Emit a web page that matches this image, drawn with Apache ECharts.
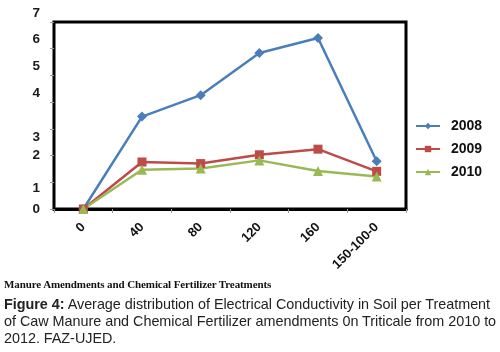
<!DOCTYPE html>
<html>
<head>
<meta charset="utf-8">
<script src="https://cdn.jsdelivr.net/npm/echarts@6/dist/echarts.min.js"></script>
<style>
  body { margin: 0; background: #fff; }
  #wrap { position: relative; width: 500px; height: 352px; overflow: hidden; }
  #chart { position: absolute; left: 0; top: 0; width: 500px; height: 352px; }
  .sub { position: absolute; left: 4px; top: 278px; font: bold 11px "Liberation Serif", serif; color: #111; letter-spacing: -0.1px; }
  .cap { position: absolute; left: 4px; top: 296px; width: 496px; font: 14.4px/17px "Liberation Sans", Arial, sans-serif; color: #222; letter-spacing: -0.03px; }
</style>
</head>
<body>
<div id="wrap">
  <div id="chart"></div>
  <div class="sub">Manure Amendments and Chemical Fertilizer Treatments</div>
  <div class="cap"><b>Figure 4:</b> Average distribution of Electrical Conductivity in Soil per Treatment of Caw Manure and Chemical Fertilizer amendments 0n Triticale from 2010 to 2012. FAZ-UJED.</div>
</div>
<script>
// categorias y valores
var categories = ['0', '40', '80', '120', '160', '150-100-0'];
var ce2008 = [0, 3.46, 4.26, 5.84, 6.40, 1.79];
var ce2009 = [0, 1.76, 1.70, 2.03, 2.24, 1.41];
var ce2010 = [0, 1.47, 1.52, 1.82, 1.42, 1.22];
var yTicks = ['0', '1', '2', '3', '4', '5', '6', '7'];

// desplazamiento vertical de las etiquetas del eje y (la figura original las tiene corridas)
var labelShift = {'7': 'up', '6': 'up', '5': 'up', '4': 'up', '3': 'down', '2': 'none', '1': 'down1', '0': 'none'};

var myChart = echarts.init(document.getElementById('chart'));

function serie(name, data, color, symbol, size) {
    return {
        type: 'line',
        name: name,
        data: data,
        symbol: symbol,
        symbolSize: size,
        lineStyle: { color: color, width: 2.5 },
        itemStyle: { color: color },
        animation: false
    };
}

var ySty = { fontFamily: 'Liberation Sans', fontWeight: 'bold', fontSize: 13.5, color: '#1a1a1a' };

var option = {
    animation: false,
    grid: {
        left: 54, right: 94, top: 22, bottom: 143,
        show: true, borderColor: '#000', borderWidth: 3, backgroundColor: '#fff'
    },
    legend: {
        orient: 'vertical',
        left: 410, top: 114,
        itemWidth: 24, itemHeight: 8, itemGap: 9,
        textStyle: { fontFamily: 'Liberation Sans', fontWeight: 'bold', fontSize: 14, color: '#111', padding: [0, 0, 0, 6] },
        data: ['2008', '2009', '2010']
    },
    xAxis: {
        type: 'category',
        data: categories,
        boundaryGap: true,
        axisLine: { show: true, lineStyle: { color: '#000', width: 3 } },
        axisTick: { show: true, length: 4, lineStyle: { color: '#999' } },
        axisLabel: {
            rotate: 45, margin: 16, interval: 0,
            fontFamily: 'Liberation Sans', fontWeight: 'bold', fontSize: 13, color: '#111'
        },
        splitLine: { show: false }
    },
    yAxis: {
        type: 'value',
        min: 0, max: 7, interval: 1,
        axisLine: { show: false },
        axisTick: { show: true, length: 4, lineStyle: { color: '#999' } },
        splitLine: { show: false },
        axisLabel: {
            margin: 14,
            formatter: function (v) {
                var s = String(v);
                if (yTicks.indexOf(s) < 0) return '';
                return '{' + labelShift[s] + '|' + s + '}';
            },
            rich: {
                up: Object.assign({ padding: [0, 0, 18, 0] }, ySty),
                down: Object.assign({ padding: [16, 0, 0, 0] }, ySty),
                down1: Object.assign({ padding: [12, 0, 0, 0] }, ySty),
                none: Object.assign({ padding: [0, 0, 0, 0] }, ySty)
            }
        }
    },
    series: [
        serie('2008', ce2008, '#4a7ebb', 'diamond', 10),
        serie('2009', ce2009, '#be4b48', 'rect', 9),
        serie('2010', ce2010, '#98b954', 'triangle', 10)
    ]
};

myChart.setOption(option);
</script>
</body>
</html>
